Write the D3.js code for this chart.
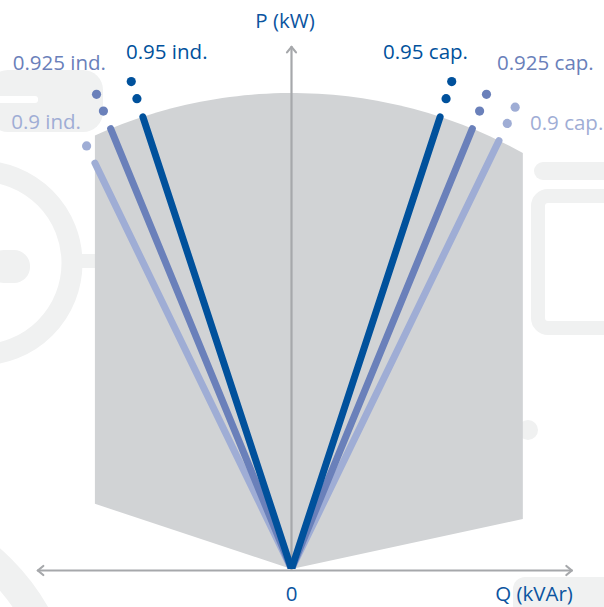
<!DOCTYPE html>
<html>
<head>
<meta charset="utf-8">
<script src="https://cdn.jsdelivr.net/npm/d3@7"></script>
<style>
  html, body { margin: 0; padding: 0; background: #fff; }
  svg { display: block; }
  text { font-family: "Open Sans", "Liberation Sans", sans-serif; font-weight: 500; }
</style>
</head>
<body>
<svg class="canvas" width="604" height="607"></svg>
<script>
// power factor limits, strongest first
var powerFactors = [0.95, 0.925, 0.9];
var pfColors = ['#00519c', '#6a80ba', '#9fadd5'];
var sides = ['ind.', 'cap.'];

// capability area (per unit of rated S)
var sRated = 1;
var qLimits = [-0.413, 0.486];
var pAtQLimit = [0.137, 0.105];

// axis extents (per unit)
var qAxisRange = [-0.533, 0.589];
var pAxisMax = 1.097;

// dots after each line end (per unit beyond the area edge)
var dotSteps = [0.04, 0.078];
var hiddenDots = ['0.9 ind.-1'];

// label placement [x, baseline, anchor]
var labelPos = {
  '0.95 ind.': [126, 59, 'start'],
  '0.925 ind.': [106, 70, 'end'],
  '0.9 ind.': [81, 129, 'end'],
  '0.95 cap.': [468, 59, 'end'],
  '0.925 cap.': [497, 70, 'start'],
  '0.9 cap.': [530, 130, 'start']
};

var Page = { width: 604, height: 607 };
var cx = 291.5, cy = 569, R = 476;

var x = d3.scaleLinear().domain([-1, 1]).range([cx - R, cx + R]);
var y = d3.scaleLinear().domain([0, 1]).range([cy, cy - R]);

var svg = d3.select('.canvas');

// faint background decoration
var deco = svg.append('g').attr('class', 'deco');
var decoColor = '#f0f1f1';
deco.append('circle').attr('cx', -20).attr('cy', 263).attr('r', 92)
    .attr('fill', 'none').attr('stroke', decoColor).attr('stroke-width', 21);
deco.append('rect').attr('x', -12).attr('y', 250).attr('width', 42).attr('height', 33)
    .attr('rx', 16).attr('fill', decoColor);
deco.append('rect').attr('x', 78).attr('y', 254).attr('width', 20).attr('height', 14)
    .attr('fill', decoColor);
deco.append('circle').attr('cx', -150).attr('cy', 720).attr('r', 213)
    .attr('fill', 'none').attr('stroke', decoColor).attr('stroke-width', 30);
deco.append('rect').attr('x', -12).attr('y', 70).attr('width', 115).attr('height', 62)
    .attr('rx', 20).attr('fill', decoColor);
deco.append('rect').attr('x', -12).attr('y', 96).attr('width', 50).attr('height', 7)
    .attr('rx', 3).attr('fill', '#fff');
deco.append('rect').attr('x', 534).attr('y', 162).attr('width', 90).attr('height', 18)
    .attr('rx', 9).attr('fill', decoColor);
deco.append('rect').attr('x', 538).attr('y', 196).attr('width', 80).attr('height', 132)
    .attr('rx', 10).attr('fill', 'none').attr('stroke', decoColor).attr('stroke-width', 14);
deco.append('circle').attr('cx', 528).attr('cy', 430).attr('r', 10).attr('fill', decoColor);
deco.append('rect').attr('x', 513).attr('y', 577).attr('width', 110).attr('height', 40)
    .attr('rx', 12).attr('fill', decoColor);

// capability area: arc of |S| = 1 between the Q limits
var qL = qLimits[0], qR = qLimits[1];
var aL = Math.atan2(qL, Math.sqrt(sRated * sRated - qL * qL));
var aR = Math.atan2(qR, Math.sqrt(sRated * sRated - qR * qR));
var area = [[0, 0], [qL, pAtQLimit[0]]];
d3.range(0, 61).forEach(function(i) {
  var a = aL + (aR - aL) * i / 60;
  area.push([sRated * Math.sin(a), sRated * Math.cos(a)]);
});
area.push([qR, pAtQLimit[1]]);

svg.append('path')
   .attr('class', 'capability')
   .attr('d', d3.line().x(function(d) { return x(d[0]) }).y(function(d) { return y(d[1]) })(area) + 'Z')
   .attr('fill', '#d1d3d5');

// axes
var axisColor = '#a6a8ab';
var axes = svg.append('g').attr('class', 'axes')
  .attr('stroke', axisColor).attr('stroke-width', 2.2).attr('fill', 'none')
  .attr('stroke-linecap', 'round').attr('stroke-linejoin', 'round');

axes.append('line')
    .attr('x1', x(0)).attr('x2', x(0))
    .attr('y1', y(0) + 1).attr('y2', y(pAxisMax));
axes.append('path')
    .attr('d', 'M' + (x(0) - 4.5) + ',' + (y(pAxisMax) + 5.5) + 'L' + x(0) + ',' + y(pAxisMax) +
               'L' + (x(0) + 4.5) + ',' + (y(pAxisMax) + 5.5));

var yAx = y(0) + 1.5;
axes.append('line')
    .attr('x1', x(qAxisRange[0])).attr('x2', x(qAxisRange[1]))
    .attr('y1', yAx).attr('y2', yAx);
axes.append('path')
    .attr('d', 'M' + (x(qAxisRange[0]) + 5.5) + ',' + (yAx - 4.5) + 'L' + x(qAxisRange[0]) + ',' + yAx +
               'L' + (x(qAxisRange[0]) + 5.5) + ',' + (yAx + 4.5));
axes.append('path')
    .attr('d', 'M' + (x(qAxisRange[1]) - 5.5) + ',' + (yAx - 4.5) + 'L' + x(qAxisRange[1]) + ',' + yAx +
               'L' + (x(qAxisRange[1]) - 5.5) + ',' + (yAx + 4.5));

// power factor lines
svg.append('clipPath').attr('id', 'above')
   .append('rect').attr('x', 0).attr('y', 0).attr('width', Page.width).attr('height', cy);

var pfLines = [];
sides.forEach(function(side) {
  var sign = side == 'ind.' ? -1 : 1;
  powerFactors.forEach(function(pf, i) {
    var sinPhi = Math.sqrt(1 - pf * pf);
    var dq = sign * sinPhi;
    // line stops where it leaves the capability area
    var lim = sign < 0 ? qL : qR;
    var rEnd = Math.min(sRated, lim / dq);
    pfLines.push({
      label: pf + ' ' + side,
      color: pfColors[i],
      dq: dq, dp: pf, rEnd: rEnd
    });
  });
});

// draw lighter ones first so the dark line sits on top
pfLines.sort(function(a, b) { return a.dp - b.dp });

var lineG = svg.append('g').attr('clip-path', 'url(#above)');
lineG.selectAll('.pf')
     .data(pfLines)
     .enter().append('line')
     .attr('class', 'pf')
     .attr('x1', x(0)).attr('y1', y(0))
     .attr('x2', function(d) { return x(d.dq * d.rEnd) })
     .attr('y2', function(d) { return y(d.dp * d.rEnd) })
     .attr('stroke', function(d) { return d.color })
     .attr('stroke-width', 7)
     .attr('stroke-linecap', 'round');

var dots = [];
pfLines.forEach(function(d) {
  dotSteps.forEach(function(s, k) {
    if (hiddenDots.indexOf(d.label + '-' + k) >= 0) return;
    dots.push({ color: d.color, q: d.dq * (d.rEnd + s), p: d.dp * (d.rEnd + s) });
  });
});

svg.selectAll('.dot')
   .data(dots)
   .enter().append('circle')
   .attr('class', 'dot')
   .attr('cx', function(d) { return x(d.q) })
   .attr('cy', function(d) { return y(d.p) })
   .attr('r', 4.6)
   .attr('fill', function(d) { return d.color });

// pf labels
svg.selectAll('.pfLabel')
   .data(pfLines)
   .enter().append('text')
   .attr('class', 'pfLabel')
   .attr('x', function(d) { return labelPos[d.label][0] })
   .attr('y', function(d) { return labelPos[d.label][1] })
   .attr('text-anchor', function(d) { return labelPos[d.label][2] })
   .attr('fill', function(d) { return d.color })
   .style('font-size', '20.5px')
   .text(function(d) { return d.label });

// axis titles
var titleColor = '#0b54a0';
svg.append('text').attr('x', 285).attr('y', 28).attr('text-anchor', 'middle')
   .attr('fill', titleColor).style('font-size', '20.5px').text('P (kW)');
svg.append('text').attr('x', x(0)).attr('y', 601).attr('text-anchor', 'middle')
   .attr('fill', titleColor).style('font-size', '20.5px').text('0');
svg.append('text').attr('x', 534).attr('y', 601).attr('text-anchor', 'middle')
   .attr('fill', titleColor).style('font-size', '20.5px').text('Q (kVAr)');
</script>
</body>
</html>
